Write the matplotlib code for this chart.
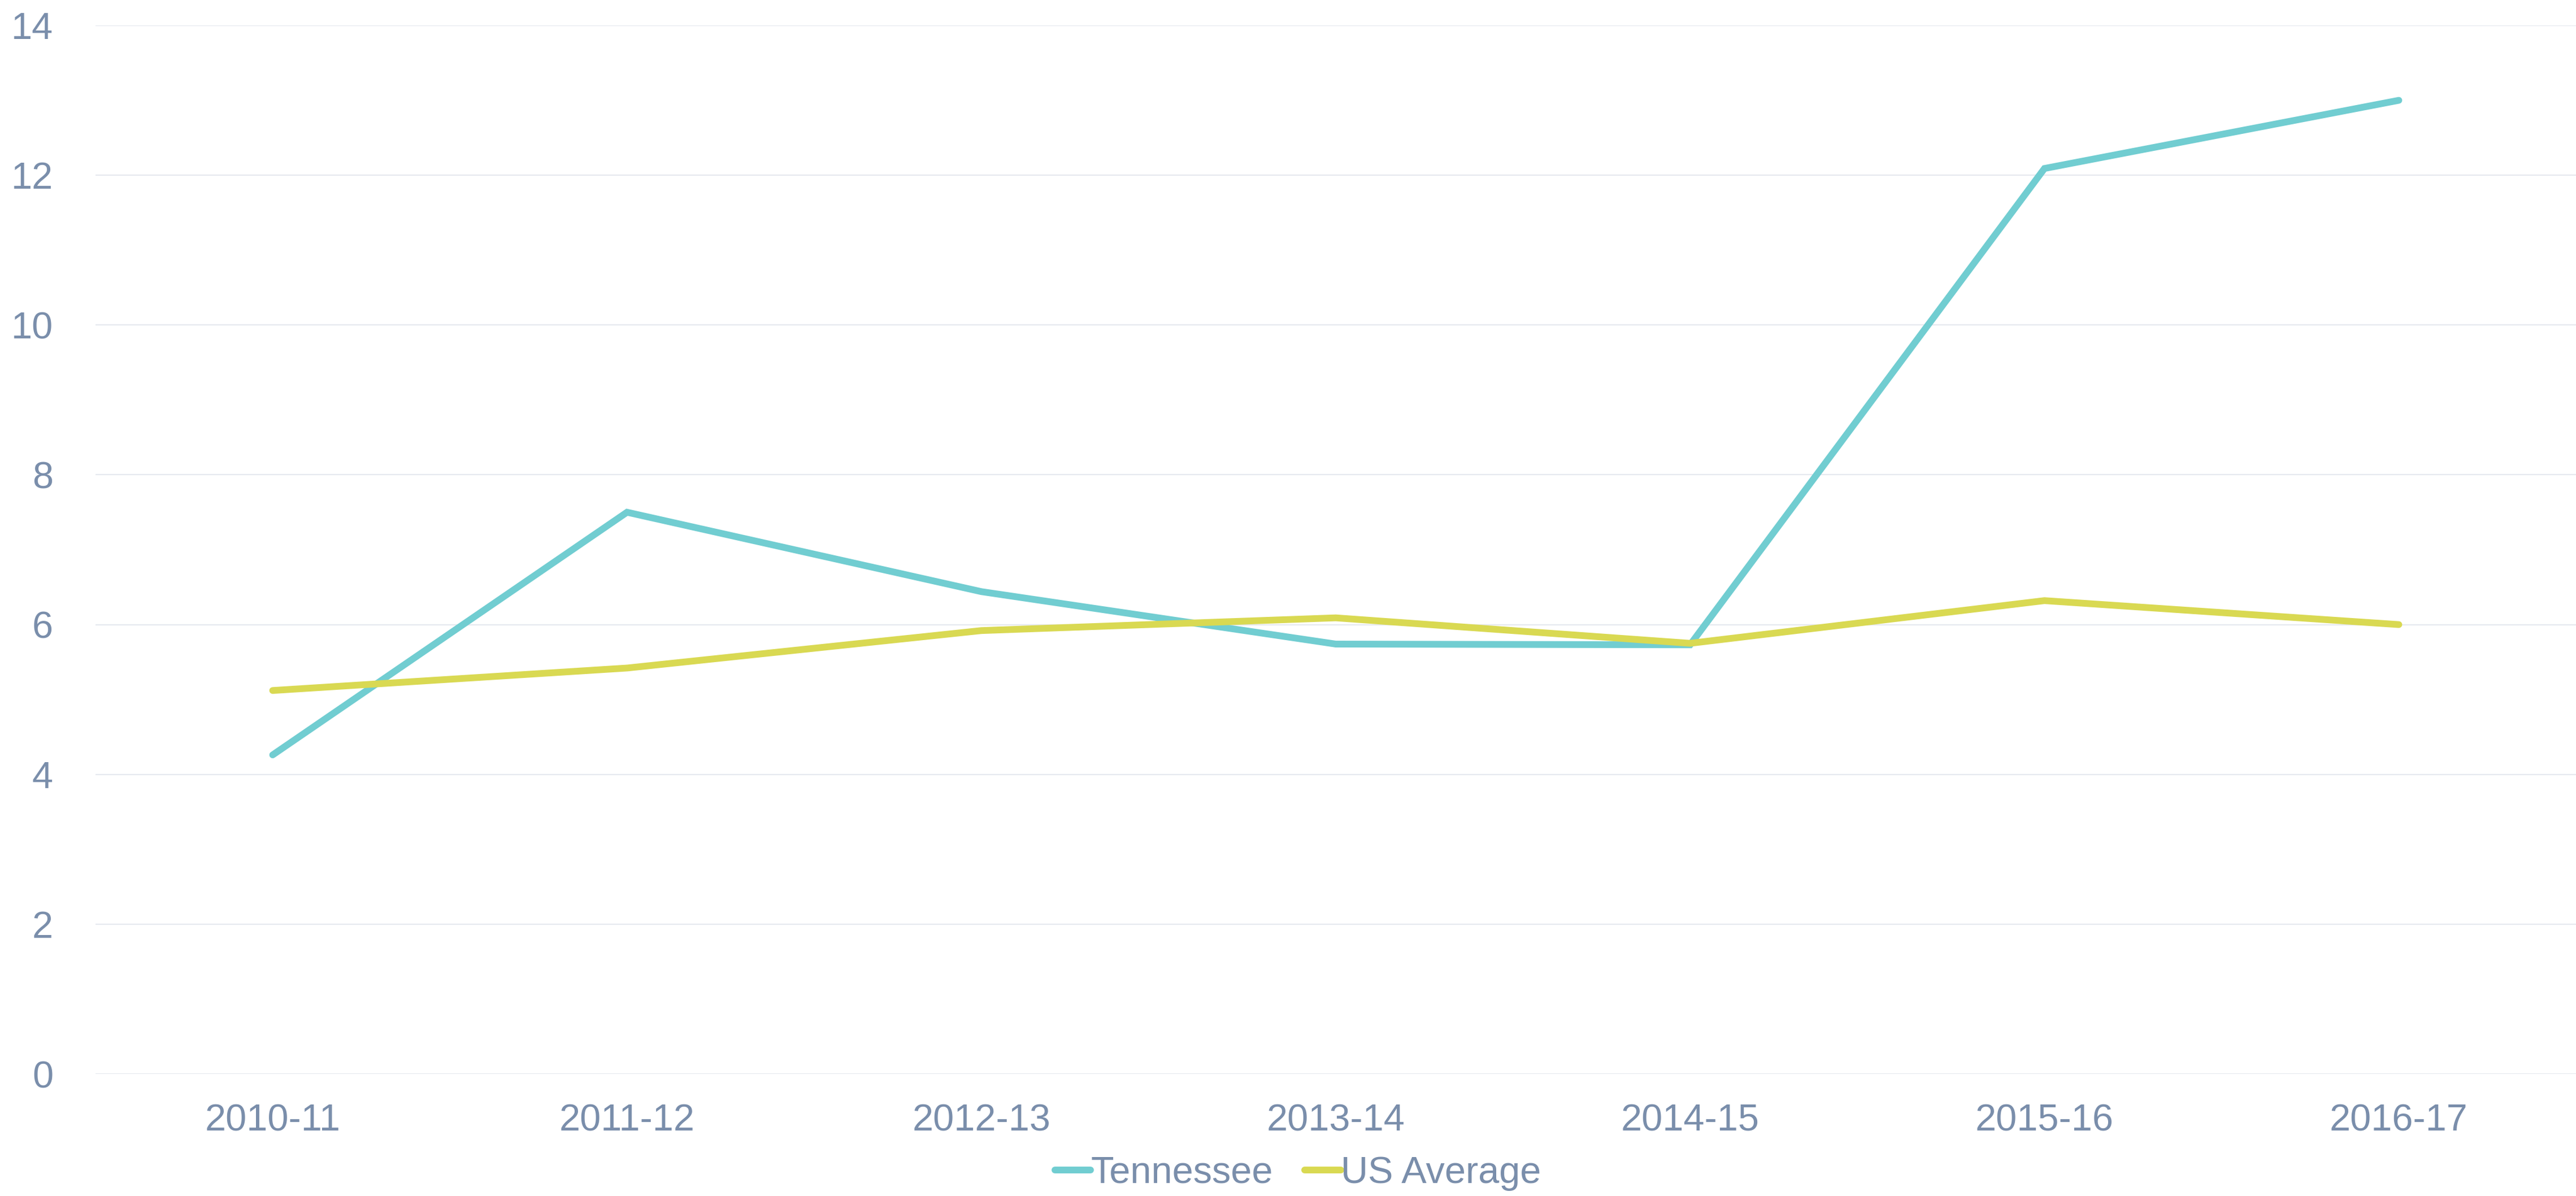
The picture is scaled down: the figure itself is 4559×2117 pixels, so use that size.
import matplotlib
matplotlib.use("Agg")
import matplotlib.pyplot as plt
import numpy as np

# data
years = ['2010-11', '2011-12', '2012-13', '2013-14', '2014-15', '2015-16', '2016-17']
tennessee = [4.26, 7.50, 6.44, 5.74, 5.73, 12.09, 13.0]
us_average = [5.12, 5.42, 5.92, 6.09, 5.75, 6.32, 6.00]
y_ticks = [0, 2, 4, 6, 8, 10, 12, 14]

label_color = '#7a8eab'
grid_color = '#e6e9ef'
teal = '#71cdd1'
yellow = '#d9d952'

plt.rcParams['font.family'] = ['Liberation Sans', 'DejaVu Sans']

fig = plt.figure(figsize=(4559 / 200, 2117 / 200), dpi=200)
ax = fig.add_axes([169 / 4559, 1 - 1901 / 2117, 1 - 169 / 4559, (1901 - 45) / 2117])

x = np.arange(len(years))
ax.plot(x, tennessee, color=teal, lw=4.3, solid_capstyle='round', solid_joinstyle='miter', label='Tennessee', zorder=3)
ax.plot(x, us_average, color=yellow, lw=4.3, solid_capstyle='round', solid_joinstyle='miter', label='US Average', zorder=3)

ax.set_xlim(-0.5, len(years) - 0.5)
ax.set_ylim(0, 14)
ax.set_yticks(y_ticks)
ax.set_yticklabels([str(t) for t in y_ticks])
ax.set_xticks(x)
ax.set_xticklabels(years)

# gridlines and axis formatting
ax.grid(True, axis='y', color=grid_color, lw=0.8)
ax.set_axisbelow(True)
for s in ax.spines.values():
    s.set_visible(False)
ax.tick_params(axis='both', length=0, labelsize=24, labelcolor=label_color)
ax.tick_params(axis='y', pad=27)
ax.tick_params(axis='x', pad=19)

leg = fig.legend(loc='center', bbox_to_anchor=(2297 / 4559, 1 - 2077 / 2117), ncol=2, frameon=False,
                 fontsize=24, handlelength=0.95, handletextpad=0.0, columnspacing=0.85, borderpad=0)
for t in leg.get_texts():
    t.set_color(label_color)

fig.savefig('out.png', dpi=200)
